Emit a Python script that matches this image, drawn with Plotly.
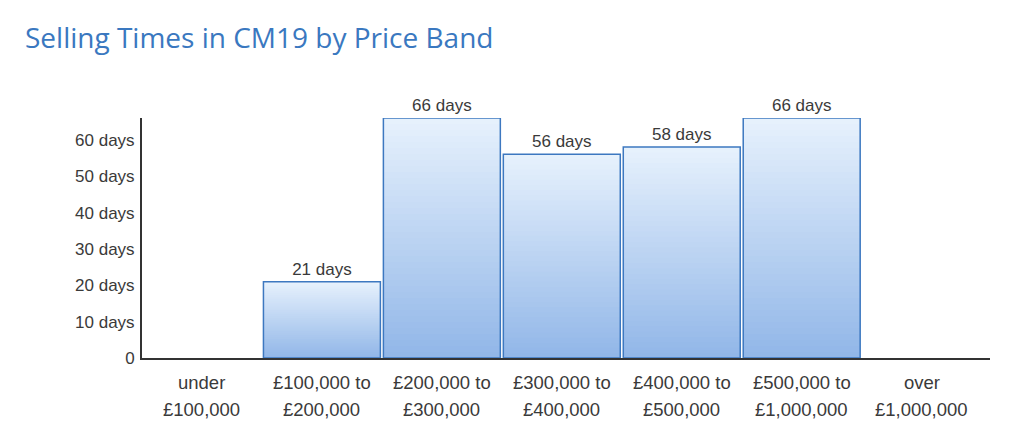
import plotly.graph_objects as go

# data
bands_top = ["under", "£100,000 to", "£200,000 to", "£300,000 to",
             "£400,000 to", "£500,000 to", "over"]
bands_bottom = ["£100,000", "£200,000", "£300,000", "£400,000",
                "£500,000", "£1,000,000", "£1,000,000"]
days = [None, 21, 66, 56, 58, 66, None]
ytick_vals = [0, 10, 20, 30, 40, 50, 60]
ytick_text = ["0", "10 days", "20 days", "30 days", "40 days", "50 days", "60 days"]

categories = [t + " " + b for t, b in zip(bands_top, bands_bottom)]

light = (232, 242, 253)
dark = (146, 183, 232)
steps = 40


def mix(t):
    c = [round(d + (l - d) * t) for d, l in zip(dark, light)]
    return "rgb({},{},{})".format(*c)


fig = go.Figure()

# vertical gradient: stacked overlapping slices, each from its base to the bar top
for k in range(steps):
    f = k / steps
    fig.add_trace(go.Bar(
        x=categories,
        y=[None if v is None else v * (1 - f) for v in days],
        base=[None if v is None else v * f for v in days],
        marker=dict(color=mix(f), line=dict(width=0)),
        hoverinfo="skip",
        showlegend=False,
    ))

# outline + labels
fig.add_trace(go.Bar(
    x=categories,
    y=days,
    marker=dict(color="rgba(0,0,0,0)", line=dict(color="#3d78c0", width=1.5)),
    text=[None if v is None else "{} days".format(v) for v in days],
    textposition="outside",
    textfont=dict(family="Liberation Sans, Arial", size=17, color="#3a3a3a"),
    cliponaxis=False,
    showlegend=False,
    hovertemplate="%{y} days<extra></extra>",
))

# two-line category labels with the wider line spacing of the original
annotations = []
for c, t, b in zip(categories, bands_top, bands_bottom):
    annotations.append(dict(x=c, y=0, xref="x", yref="paper", text=t,
                            showarrow=False, yanchor="middle", yshift=-24,
                            font=dict(size=18.5)))
    annotations.append(dict(x=c, y=0, xref="x", yref="paper", text=b,
                            showarrow=False, yanchor="middle", yshift=-51,
                            font=dict(size=18.5)))

fig.update_layout(
    width=1024,
    height=435,
    barmode="overlay",
    bargap=0.025,
    plot_bgcolor="white",
    paper_bgcolor="white",
    margin=dict(l=134, r=42, t=110, b=85),
    font=dict(family="Liberation Sans, Arial", size=17, color="#3a3a3a"),
    title=dict(
        text="Selling Times in CM19 by Price Band",
        x=0.0166, xanchor="left", xref="container",
        y=0.931, yanchor="middle", yref="container",
        font=dict(family="Open Sans", size=28, color="#3a78c0", weight=500),
    ),
    annotations=annotations,
    xaxis=dict(
        range=[-0.5, 6.57],
        showticklabels=False,
        showgrid=False,
        zeroline=False,
        showline=True,
        linecolor="#333333",
        linewidth=2,
        ticks="",
    ),
    yaxis=dict(
        range=[0, 66],
        tickvals=ytick_vals,
        ticktext=ytick_text,
        showgrid=False,
        zeroline=False,
        showline=True,
        linecolor="#333333",
        linewidth=2,
        ticks="",
        ticklabelstandoff=2,
    ),
)

fig.write_html("out.html")
